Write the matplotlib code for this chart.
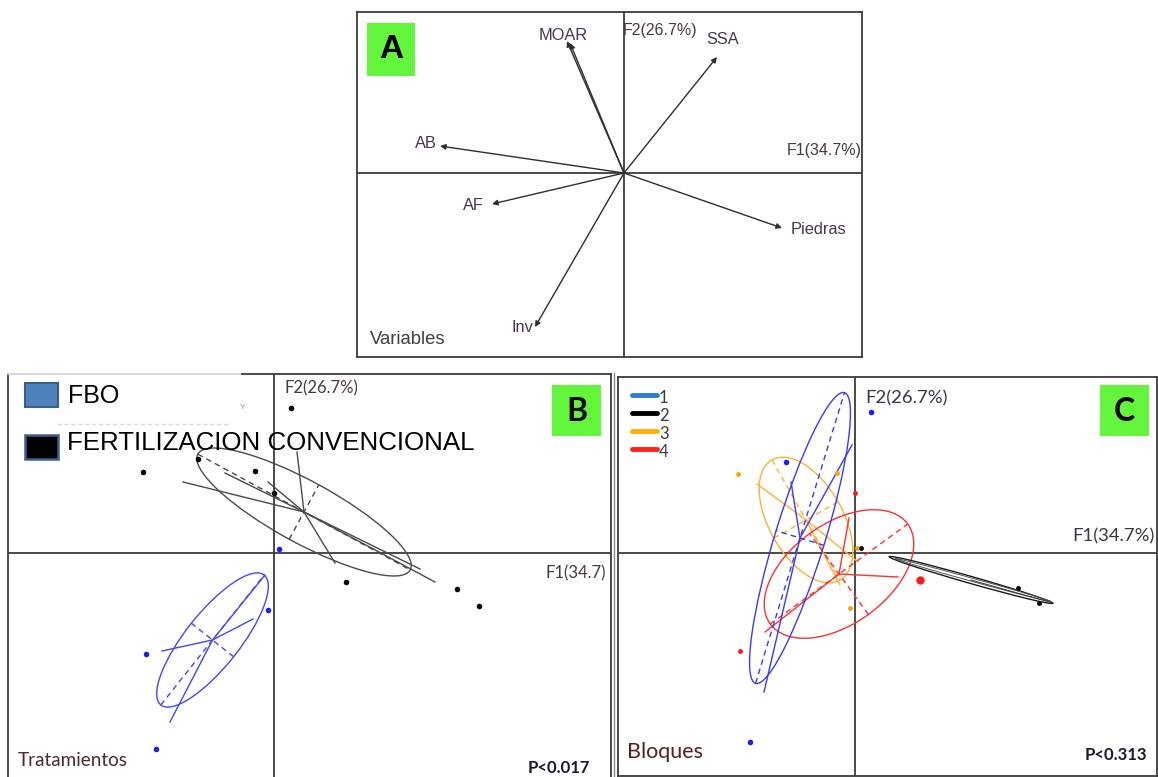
import numpy as np
import matplotlib
matplotlib.use("Agg")
import matplotlib.pyplot as plt
from matplotlib.patches import Ellipse, Rectangle
from matplotlib.lines import Line2D

# ---------------- data ----------------
# Panel A: variable loadings on F1 / F2
var_names = ["MOAR", "SSA", "AB", "AF", "Inv", "Piedras"]
var_f1 = [-0.57, 0.93, -1.84, -1.32, -0.89, 1.58]
var_f2 = [1.32, 1.16, 0.27, -0.31, -1.54, -0.55]
moar_dup = [-0.54, 1.30]          # second (overlapping) MOAR arrow

# Panel B: treatments
fc_f1 = [0.17, -1.31, -0.76, -0.19, 0.00, 0.72, 1.83, 2.05]
fc_f2 = [1.45, 0.81, 0.94, 0.82, 0.60, -0.29, -0.36, -0.53]
fc_ell = [0.30, 0.41, 1.21, 0.31, -28.6]          # cx, cy, a, b, angle
fc_star_f1 = [-0.91, -0.49, -0.06, 1.61, 1.46, 0.61, 0.23]
fc_star_f2 = [0.71, 0.80, 0.71, -0.29, -0.16, -0.10, 1.01]

fbo_f1 = [0.05, -0.06, -1.28, -1.18]
fbo_f2 = [0.04, -0.57, -1.01, -1.96]
fbo_ell = [-0.615, -0.87, 0.83, 0.27, 51.5]
fbo_star_f1 = [-1.12, -0.21, -1.04, -0.09]
fbo_star_f2 = [-0.98, -0.66, -1.69, -0.22]

# Panel C: blocks
b1_f1 = [0.155, -0.69, -1.05]
b1_f2 = [1.41, 0.91, -1.89]
b1_ell = [-0.55, 0.15, 1.52, 0.25, 73.0]
b1_star_f1 = [-0.91, -0.03, -0.64]
b1_star_f2 = [-1.39, 1.08, 0.71]

b2_f1 = [1.84, 1.63, 0.06]
b2_f2 = [-0.50, -0.35, 0.05]
b2_ell = [1.16, -0.27, 0.85, 0.035, -15.9]
b2_star_f1 = [1.98]
b2_star_f2 = [-0.50]

b3_f1 = [-1.17, -0.18, -0.05, 0.02]
b3_f2 = [0.79, 0.80, -0.55, 0.05]
b3_ell = [-0.49, 0.33, 0.69, 0.37, -60.5]
b3_star_f1 = [-0.98, 0.03, -0.15]
b3_star_f2 = [0.69, -0.09, -0.32]

b4_f1 = [0.65, 0.00, -1.15]
b4_f2 = [-0.27, 0.60, -0.98]
b4_ell = [-0.16, -0.21, 0.85, 0.50, 36.0]
b4_star_f1 = [-0.90, -0.06, 0.43]
b4_star_f2 = [-0.79, 0.35, -0.24]

block_labels = ["1", "2", "3", "4"]

# ---------------- layout ----------------
W, H = 1158, 777
S = 100.0
FRAME = "#3c3c3c"
GREEN = "#63f53b"
LABC = "#47344f"

fig = plt.figure(figsize=(W / 100, H / 100), dpi=100)
fig.patch.set_facecolor("white")


def fx(x):
    return x / W


def fy(y):
    return 1 - y / H


def make_axes(left, top, right, bottom, cx, cy):
    ax = fig.add_axes([left / W, 1 - bottom / H, (right - left) / W, (bottom - top) / H])
    ax.set_xlim((left - cx) / S, (right - cx) / S)
    ax.set_ylim((cy - bottom) / S, (cy - top) / S)
    ax.set_xticks([])
    ax.set_yticks([])
    ax.patch.set_alpha(0)
    for sp in ax.spines.values():
        sp.set_color(FRAME)
        sp.set_linewidth(1.3)
    ax.axhline(0, color=FRAME, lw=1.3, zorder=1)
    ax.axvline(0, color=FRAME, lw=1.3, zorder=1)
    return ax


def draw_group(ax, ell, sx, sy, px, py, color, lcolor=None, ms=3.5, lw=1.0):
    lcolor = lcolor or color
    cx, cy, a, b, ang = ell
    ax.add_patch(Ellipse((cx, cy), 2 * a, 2 * b, angle=ang, fill=False,
                         edgecolor=lcolor, lw=lw, zorder=3))
    t = np.deg2rad(ang)
    ux, uy = np.cos(t), np.sin(t)
    vx, vy = -np.sin(t), np.cos(t)
    ax.plot([cx - a * ux, cx + a * ux], [cy - a * uy, cy + a * uy],
            ls=(0, (4, 3)), color=lcolor, lw=lw, zorder=3)
    ax.plot([cx - b * vx, cx + b * vx], [cy - b * vy, cy + b * vy],
            ls=(0, (4, 3)), color=lcolor, lw=lw, zorder=3)
    for ex, ey in zip(sx, sy):
        ax.plot([cx, ex], [cy, ey], color=lcolor, lw=lw, zorder=3)
    ax.plot(px, py, "o", color=color, ms=ms, mec="none", zorder=4)


# ================= Panel A =================
axA = make_axes(357, 12, 862, 357, 624, 173)
for i, name in enumerate(var_names):
    axA.annotate("", xy=(var_f1[i], var_f2[i]), xytext=(0, 0),
                 arrowprops=dict(arrowstyle="-|>", color="#2e2e2e", lw=1.0,
                                 mutation_scale=8, shrinkA=0, shrinkB=0))
axA.annotate("", xy=(moar_dup[0], moar_dup[1]), xytext=(0, 0),
             arrowprops=dict(arrowstyle="-|>", color="#2e2e2e", lw=1.0,
                             mutation_scale=8, shrinkA=0, shrinkB=0))

lab_px = {"MOAR": (563, 35), "SSA": (723, 40), "AB": (426, 144), "AF": (473, 205),
          "Inv": (522, 327), "Piedras": (818, 229)}
for name in var_names:
    x, y = lab_px[name]
    fig.text(fx(x), fy(y), name, ha="center", va="center", fontsize=11.8,
             family="Liberation Sans", color=LABC)
fig.text(fx(623), fy(31), "F2(26.7%)", ha="left", va="center", fontsize=11.5,
         family="Liberation Sans", color="#4a3a3a")
fig.text(fx(862), fy(150), "F1(34.7%)", ha="right", va="center", fontsize=11.5,
         family="Liberation Sans", color="#4a3a3a")
fig.text(fx(370), fy(339), "Variables", ha="left", va="center", fontsize=13.3,
         family="Liberation Sans", color="#3f3f3f")
fig.add_artist(Rectangle((fx(367), fy(76)), (415 - 367) / W, (76 - 23) / H,
                         transform=fig.transFigure, facecolor=GREEN, edgecolor="none"))
fig.text(fx(391), fy(50), "A", ha="center", va="center", fontsize=24,
         fontweight="bold", family="Liberation Sans", color="black")

# ================= Panel B =================
axB = make_axes(8, 374, 611, 790, 274, 553)
axB.spines["top"].set_visible(False)
axB.spines["bottom"].set_visible(False)
fig.add_artist(Line2D([fx(8), fx(242)], [fy(374), fy(374)], color="#d5d5d5", lw=1.3))
fig.add_artist(Line2D([fx(242), fx(611)], [fy(374), fy(374)], color=FRAME, lw=1.3))
fig.add_artist(Line2D([fx(57), fx(228)], [fy(424), fy(424)], color="#dcdcdc", lw=1.0,
                      ls=(0, (3, 2))))

draw_group(axB, fc_ell, fc_star_f1, fc_star_f2, fc_f1, fc_f2, "black",
           lcolor="#4a4a4a", ms=4)
draw_group(axB, fbo_ell, fbo_star_f1, fbo_star_f2, fbo_f1, fbo_f2, "#1a1aff",
           lcolor="#4646f5", ms=4)

fig.add_artist(Rectangle((fx(25), fy(407)), 33 / W, 24 / H, transform=fig.transFigure,
                         facecolor="#4f81bd", edgecolor="#3a5f8a", lw=1.5))
fig.add_artist(Rectangle((fx(25), fy(459)), 33 / W, 24 / H, transform=fig.transFigure,
                         facecolor="black", edgecolor="#3a5f8a", lw=1.8))
fig.text(fx(68), fy(396), "FBO", ha="left", va="center", fontsize=18,
         family="Liberation Sans", color="black")
fig.text(fx(67), fy(443), "FERTILIZACION CONVENCIONAL", ha="left", va="center",
         fontsize=18.6, family="Liberation Sans", color="black")
fig.text(fx(243), fy(408), "Y", ha="center", va="center", fontsize=6,
         family="Liberation Sans", color="#9a80a8")

fig.text(fx(284), fy(388), "F2(26.7%)", ha="left", va="center", fontsize=12,
         family="Lato", color="#4a3a3a")
fig.text(fx(606), fy(573), "F1(34.7)", ha="right", va="center", fontsize=12,
         family="Lato", color="#4a3a3a")
fig.add_artist(Rectangle((fx(552), fy(436)), 49 / W, 51 / H, transform=fig.transFigure,
                         facecolor=GREEN, edgecolor="none"))
fig.text(fx(576.5), fy(411), "B", ha="center", va="center", fontsize=23,
         fontweight="bold", family="Lato", color="black")
fig.text(fx(18), fy(761), "Tratamientos", ha="left", va="center", fontsize=13.6,
         family="Lato", color="#4d2b2b")
fig.text(fx(590), fy(768), "P<0.017", ha="right", va="center", fontsize=12,
         fontweight="bold", family="Lato", color="#1a1a2a")

# ================= Panel C =================
fig.add_artist(Line2D([fx(614), fx(614)], [fy(373), fy(777)], color="#8a8a8a", lw=1.0))
axC = make_axes(618, 377, 1157, 776, 855, 553)

draw_group(axC, b3_ell, b3_star_f1, b3_star_f2, b3_f1, b3_f2, "#ffa500",
           lcolor="#ffb030", ms=3.5)
draw_group(axC, b4_ell, b4_star_f1, b4_star_f2, b4_f1, b4_f2, "#ff1a1a",
           lcolor="#ff3030", ms=3.5)
draw_group(axC, b1_ell, b1_star_f1, b1_star_f2, b1_f1, b1_f2, "#1a1aff",
           lcolor="#3a3af5", ms=4)
# group 2: thin needle ellipse
cx, cy, a, b, ang = b2_ell
axC.add_patch(Ellipse((cx, cy), 2 * a, 2 * b, angle=ang, fill=False,
                      edgecolor="#1a1a1a", lw=1.0, zorder=3))
axC.add_patch(Ellipse((cx + 0.02, cy), 2 * a * 0.95, 2 * b * 0.45, angle=ang + 0.5,
                      fill=False, edgecolor="#555555", lw=0.7, zorder=3))
for ex, ey in zip(b2_star_f1, b2_star_f2):
    axC.plot([cx, ex], [cy, ey], color="#333333", lw=0.7, zorder=3)
axC.plot(b2_f1, b2_f2, "o", color="black", ms=3.5, mec="none", zorder=4)
# big red point
axC.plot([b4_f1[0]], [b4_f2[0]], "o", color="#ff1a1a", ms=6, mec="none", zorder=4)

leg_cols = ["#2a7fd4", "black", "#ffb000", "#ff2020"]
leg_y = [395, 413, 431, 449]
for lbl, col, y in zip(block_labels, leg_cols, leg_y):
    fig.add_artist(Line2D([fx(632), fx(657)], [fy(y), fy(y)], color=col, lw=3.5,
                          solid_capstyle="round"))
    fig.text(fx(659), fy(y + 3), lbl, ha="left", va="center", fontsize=12,
             family="Lato", color="#3a3a3a")

fig.text(fx(865), fy(398), "F2(26.7%)", ha="left", va="center", fontsize=13.3,
         family="Lato", color="#3a3446")
fig.text(fx(1155), fy(536), "F1(34.7%)", ha="right", va="center", fontsize=13.3,
         family="Lato", color="#3a3446")
fig.add_artist(Rectangle((fx(1100), fy(436)), 49 / W, 51 / H, transform=fig.transFigure,
                         facecolor=GREEN, edgecolor="none"))
fig.text(fx(1124.5), fy(411), "C", ha="center", va="center", fontsize=23,
         fontweight="bold", family="Lato", color="black")
fig.text(fx(627), fy(752), "Bloques", ha="left", va="center", fontsize=15.5,
         family="Lato", color="#5a1e1e")
fig.text(fx(1147), fy(755), "P<0.313", ha="right", va="center", fontsize=12,
         fontweight="bold", family="Lato", color="#1a1a2a")

fig.savefig("out.png", dpi=100, facecolor="white")
